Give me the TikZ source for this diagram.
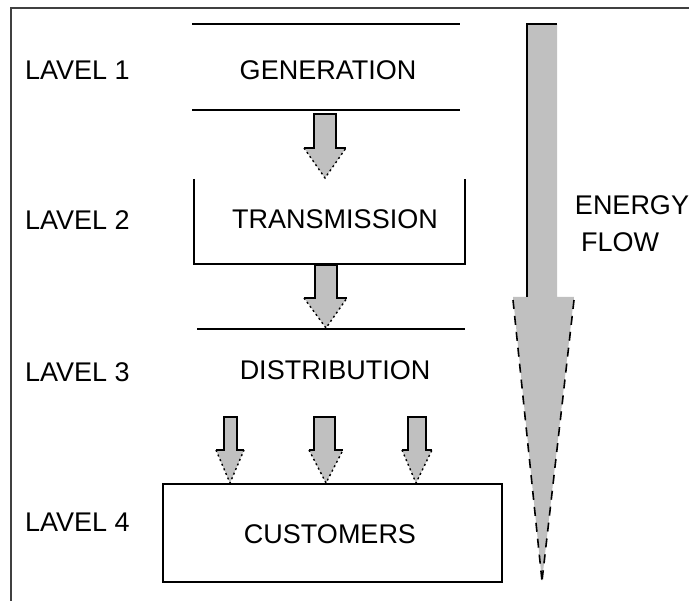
\documentclass[tikz,border=0pt]{standalone}
\usepackage{fontspec}
\setmainfont{Liberation Sans}
\definecolor{arrowgray}{HTML}{C0C0C0}
\definecolor{framegray}{HTML}{404040}
\tikzset{
  lbl/.style={inner sep=0pt, font=\fontsize{27}{31}\selectfont},
  levlbl/.style={lbl, anchor=west},
  rule/.style={line width=1.6pt, black},
  frame/.style={line width=1.8pt, framegray},
  arrowfill/.style={fill=arrowgray},
  shaftline/.style={line width=1.4pt, black},
  headline/.style={line width=1.4pt, black, dash pattern=on 2pt off 3pt},
  bigheadline/.style={line width=1.6pt, black, dash pattern=on 9pt off 7pt}
}
\newcommand{\blkarrow}[8]{%
  \fill[arrowfill] (#1,#3) -- (#2,#3) -- (#2,#4) -- (#6,#4) -- (#7,#8) -- (#5,#4) -- (#1,#4) -- cycle;
  \draw[shaftline] (#5,#4) -- (#1,#4) -- (#1,#3) -- (#2,#3) -- (#2,#4) -- (#6,#4);
  \draw[headline] (#5,#4) -- (#7,#8) -- (#6,#4);
}
\begin{document}
\begin{tikzpicture}[x=1pt,y=-1pt]
\useasboundingbox (0,0) rectangle (689,601);
% frame
\draw[frame] (11,601) -- (11,8) -- (689,8);
% level 1
\coordinate (g1l) at (192,24); \coordinate (g1r) at (460,24);
\coordinate (g2l) at (192,110); \coordinate (g2r) at (460,110);
\draw[rule] (g1l) -- (g1r);
\draw[rule] (g2l) -- (g2r);
\node[lbl] (gen) at (328,70) {GENERATION};
% transmission open box
\coordinate (t1) at (194,179); \coordinate (t2) at (194,264);
\coordinate (t3) at (465,264); \coordinate (t4) at (465,179);
\draw[rule] (t1) -- (t2) -- (t3) -- (t4);
\node[lbl] (trans) at (335,219) {TRANSMISSION};
% level 3 line
\coordinate (d1) at (197,329); \coordinate (d2) at (465,329);
\draw[rule] (d1) -- (d2);
\node[lbl] (dist) at (335,370) {DISTRIBUTION};
% customers
\node[draw, line width=1.6pt, minimum width=339pt, minimum height=98pt, inner sep=0pt] (cust) at (332.5,533) {};
\node[lbl] (custtxt) at (330,534) {CUSTOMERS};
% level labels
\node[levlbl] (l1) at (25,70) {LAVEL 1};
\node[levlbl] (l2) at (25,220) {LAVEL 2};
\node[levlbl] (l3) at (25,372) {LAVEL 3};
\node[levlbl] (l4) at (25,522) {LAVEL 4};
% small block arrows
\blkarrow{314}{336}{114}{148}{304}{346}{325}{178}
\blkarrow{315}{337}{265}{298}{304}{347}{326}{328}
\blkarrow{224}{237}{417}{450}{216}{244}{230}{483}
\blkarrow{314}{335}{417}{450}{309}{343}{326}{483}
\blkarrow{408}{426}{417}{450}{402}{432}{416}{483}
% big energy arrow
\fill[arrowfill] (527,24) -- (557,24) -- (557,297) -- (574,297) -- (542,581) -- (513,297) -- (527,297) -- cycle;
\draw[shaftline] (527,297) -- (527,24) -- (557,24);
\draw[bigheadline] (513,300) -- (542,581);
\draw[bigheadline] (574,300) -- (542,581);
\node[lbl] (energy) at (632,205) {ENERGY};
\node[lbl] (flow) at (620,242) {FLOW};
\end{tikzpicture}
\end{document}
